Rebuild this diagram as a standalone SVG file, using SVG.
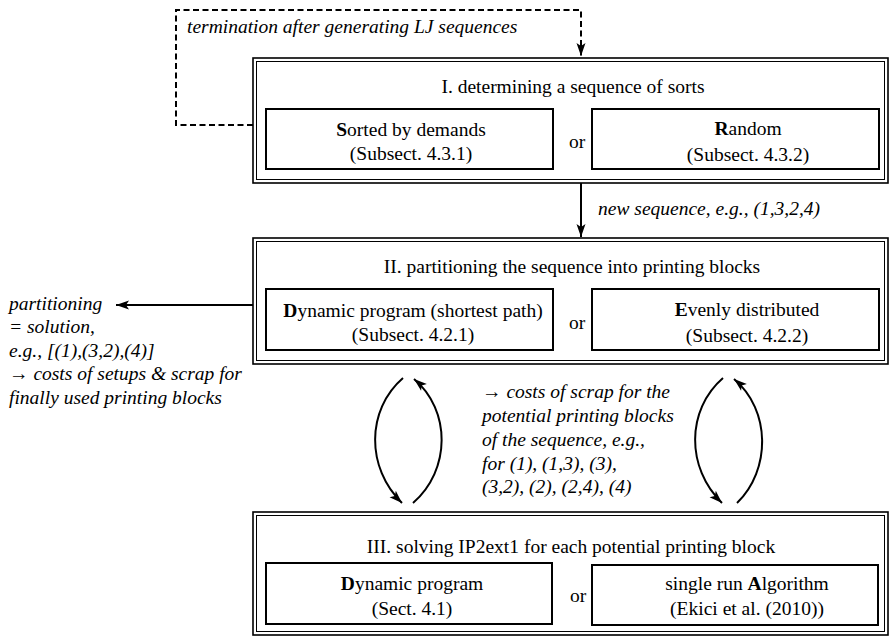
<svg xmlns="http://www.w3.org/2000/svg" width="889" height="636" viewBox="0 0 889 636" font-family="'Liberation Serif', serif" font-size="19.5">
<style>
text{font-family:'Liberation Serif',serif;font-size:19.5px;fill:#000}
.it{font-style:italic}
.c{text-anchor:middle}
.outer{fill:none;stroke:#000;stroke-width:1.6}
.inner{fill:none;stroke:#000;stroke-width:1}
.sub{fill:#fff;stroke:#000;stroke-width:2}
.ln{fill:none;stroke:#000;stroke-width:2}
.dash{fill:none;stroke:#000;stroke-width:2;stroke-dasharray:6 3.5}
.b{font-weight:bold}
</style>
<defs>
<marker id="ah" markerUnits="userSpaceOnUse" markerWidth="14" markerHeight="10" refX="13" refY="4.5" orient="auto" overflow="visible">
<path d="M0,0 L13,4.5 L0,9 L3,4.5 z" fill="#000"/>
</marker>
</defs>
<rect width="889" height="636" fill="#fff"/>

<g id="connectors">
<path class="dash" d="M253,125 H176 V10 H581 V56" marker-end="url(#ah)"/>
<path class="ln" d="M581,183 V237" marker-end="url(#ah)"/>
<path class="ln" d="M253,305 H116" marker-end="url(#ah)"/>
<path class="ln" d="M403,378 C366,410 366,468 402,503" marker-end="url(#ah)"/>
<path class="ln" d="M413,503 C451,470 451,410 414,379" marker-end="url(#ah)"/>
<path class="ln" d="M723,378 C686,410 686,468 722,503" marker-end="url(#ah)"/>
<path class="ln" d="M737,503 C771,470 771,410 734,379" marker-end="url(#ah)"/>
</g>

<g id="label-termination">
<text class="it" x="187" y="33">termination after generating LJ sequences</text>
</g>
<g id="label-newseq">
<text class="it" x="598" y="215">new sequence, e.g., (1,3,2,4)</text>
</g>
<g id="label-partitioning">
<text class="it" x="9" y="310">partitioning</text>
<text class="it" x="9" y="333">= solution,</text>
<text class="it" x="9" y="357">e.g., [(1),(3,2),(4)]</text>
<text class="it" x="9" y="380">→ costs of setups &amp; scrap for</text>
<text class="it" x="9" y="404">finally used printing blocks</text>
</g>
<g id="label-costs">
<text class="it" x="482" y="398">→ costs of scrap for the</text>
<text class="it" x="482" y="422">potential printing blocks</text>
<text class="it" x="482" y="446">of the sequence, e.g.,</text>
<text class="it" x="482" y="470">for (1), (1,3), (3),</text>
<text class="it" x="482" y="493">(3,2), (2), (2,4), (4)</text>
</g>

<g id="step1">
<rect class="outer" x="253" y="58" width="635" height="125"/>
<rect class="inner" x="256.5" y="61.5" width="628" height="118"/>
<text class="c" x="573" y="93">I. determining a sequence of sorts</text>
<rect class="sub" x="266" y="109" width="287" height="60"/>
<text class="c" x="411" y="136"><tspan class="b">S</tspan>orted by demands</text>
<text class="c" x="411" y="160">(Subsect. 4.3.1)</text>
<text class="c" x="577" y="148">or</text>
<rect class="sub" x="592" y="109" width="287" height="60"/>
<text class="c" x="748" y="135"><tspan class="b">R</tspan>andom</text>
<text class="c" x="748" y="161">(Subsect. 4.3.2)</text>
</g>

<g id="step2">
<rect class="outer" x="253" y="238" width="635" height="126"/>
<rect class="inner" x="256.5" y="241.5" width="628" height="119"/>
<text class="c" x="572" y="273">II. partitioning the sequence into printing blocks</text>
<rect class="sub" x="266" y="289" width="287" height="61"/>
<text class="c" x="413" y="317"><tspan class="b">D</tspan>ynamic program (shortest path)</text>
<text class="c" x="413" y="341">(Subsect. 4.2.1)</text>
<text class="c" x="577" y="329">or</text>
<rect class="sub" x="592" y="289" width="287" height="61"/>
<text class="c" x="747" y="316"><tspan class="b">E</tspan>venly distributed</text>
<text class="c" x="747" y="342">(Subsect. 4.2.2)</text>
</g>

<g id="step3">
<rect class="outer" x="253" y="512" width="635" height="123"/>
<rect class="inner" x="256.5" y="515.5" width="628" height="116"/>
<text class="c" x="571" y="553">III. solving IP2ext1 for each potential printing block</text>
<rect class="sub" x="266" y="563" width="286" height="61"/>
<text class="c" x="412" y="590"><tspan class="b">D</tspan>ynamic program</text>
<text class="c" x="412" y="615">(Sect. 4.1)</text>
<text class="c" x="578" y="602">or</text>
<rect class="sub" x="592" y="565" width="286" height="60"/>
<text class="c" x="747" y="590">single run <tspan class="b">A</tspan>lgorithm</text>
<text class="c" x="747" y="615">(Ekici et al. (2010))</text>
</g>
</svg>
